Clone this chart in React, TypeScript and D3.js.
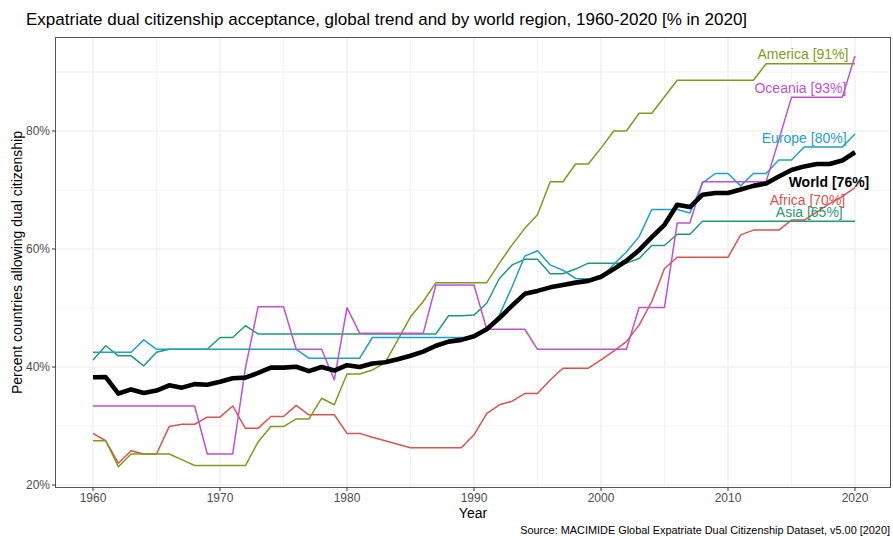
import React from "react";
import * as d3 from "d3";

const years: number[] = d3.range(1960, 2021);

const world = [38.25, 38.3, 35.5, 36.2, 35.6, 36.0, 36.9, 36.5, 37.1, 37.0,
  37.5, 38.1, 38.2, 39.0, 39.9, 39.9, 40.05, 39.3, 40.0, 39.4,
  40.3, 40.0, 40.6, 40.8, 41.3, 41.9, 42.6, 43.6, 44.3, 44.6,
  45.2, 46.4, 48.3, 50.4, 52.4, 52.9, 53.5, 53.9, 54.3, 54.6,
  55.3, 56.6, 58.0, 59.8, 62.0, 64.1, 67.5, 67.1, 69.2, 69.5,
  69.5, 70.1, 70.7, 71.1, 72.3, 73.4, 74.0, 74.4, 74.4, 75.0, 76.4];

const africa = [28.75, 27.5, 23.7, 25.8, 25.25, 25.25, 29.9, 30.3, 30.3, 31.5,
  31.5, 33.4, 29.6, 29.6, 31.6, 31.6, 33.5, 31.9, 31.9, 31.9,
  28.75, 28.75, 28.1, 27.5, 26.9, 26.3, 26.3, 26.3, 26.3, 26.3,
  28.5, 32.1, 33.6, 34.2, 35.5, 35.5, 37.8, 39.8, 39.8, 39.8,
  41.2, 42.7, 44.3, 47.1, 51.1, 56.7, 58.6, 58.6, 58.6, 58.6,
  58.6, 62.4, 63.2, 63.2, 63.2, 64.9, 64.9, 66.3, 67.7, 68.9, 70.4];

const america = [27.5, 27.5, 23.1, 25.25, 25.25, 25.25, 25.25, 24.3, 23.3, 23.3,
  23.3, 23.3, 23.3, 27.3, 29.9, 29.9, 31.2, 31.2, 34.7, 33.6,
  38.8, 38.8, 39.5, 40.7, 44.6, 48.5, 51.1, 54.3, 54.3, 54.3,
  54.3, 54.3, 57.6, 60.7, 63.5, 65.8, 71.4, 71.4, 74.4, 74.4,
  77.1, 80.0, 80.0, 83.0, 83.0, 85.8, 88.6, 88.6, 88.6, 88.6,
  88.6, 88.6, 88.6, 91.4, 91.4, 91.4, 91.4, 91.4, 91.4, 91.4, 91.4];

const asia = [41.2, 43.6, 41.9, 41.9, 40.2, 42.5, 43.0, 43.0, 43.0, 43.0,
  45.0, 45.0, 47.0, 45.6, 45.6, 45.6, 45.6, 45.6, 45.6, 45.6,
  45.6, 45.6, 45.6, 45.6, 45.6, 45.6, 45.6, 45.6, 48.7, 48.7,
  48.8, 50.8, 55.0, 57.3, 58.25, 58.25, 55.8, 55.8, 56.6, 57.6,
  57.6, 57.6, 57.6, 58.4, 60.6, 60.6, 62.5, 62.5, 64.7, 64.7,
  64.7, 64.7, 64.7, 64.7, 64.7, 64.7, 64.7, 64.7, 64.7, 64.7, 64.7];

const europe = [42.5, 42.5, 42.5, 42.5, 44.6, 43.0, 43.0, 43.0, 43.0, 43.0,
  43.0, 43.0, 43.0, 43.0, 43.0, 43.0, 43.0, 41.5, 41.5, 41.5,
  41.5, 41.5, 45.0, 45.0, 45.0, 45.0, 45.0, 45.0, 45.0, 45.0,
  45.0, 46.3, 48.8, 53.6, 58.8, 59.7, 57.3, 56.4, 55.0, 54.9,
  55.0, 57.4, 59.5, 62.1, 66.7, 66.7, 66.7, 66.1, 71.2, 72.8,
  72.8, 70.7, 72.8, 72.8, 75.1, 75.1, 77.3, 77.3, 77.3, 77.3, 79.5];

const oceania = [33.4, 33.4, 33.4, 33.4, 33.4, 33.4, 33.4, 33.4, 33.4, 25.25,
  25.25, 25.25, 39.8, 50.2, 50.2, 50.2, 43.0, 43.0, 43.0, 37.8,
  50.05, 45.7, 45.7, 45.7, 45.7, 45.7, 45.7, 53.9, 53.9, 53.9,
  53.9, 46.4, 46.4, 46.4, 46.4, 43.0, 43.0, 43.0, 43.0, 43.0,
  43.0, 43.0, 43.0, 50.1, 50.1, 50.1, 64.4, 64.4, 71.4, 71.4,
  71.4, 71.4, 71.4, 71.4, 78.5, 85.7, 85.7, 85.7, 85.7, 85.7, 92.7];

const regionNames = ["Africa", "America", "Asia", "Europe", "Oceania"];
const regionValues = [africa, america, asia, europe, oceania];
const regionColors = ["#d9544f", "#7f9a1c", "#1f9a72", "#1ea0c8", "#bd52d2"];
const finalPct = ["70%", "91%", "65%", "80%", "93%"];
const worldLabel = "World [76%]";

const xTicks = [1960, 1970, 1980, 1990, 2000, 2010, 2020];
const xMinor = [1965, 1975, 1985, 1995, 2005, 2015];
const yTicks = [20, 40, 60, 80];
const yMinor = [30, 50, 70, 90];

// label anchor (centre) positions in data units: [year, percent]
const labelPos: [number, number][] = [
  [2016.26, 68.3],
  [2015.9, 93.0],
  [2016.4, 66.3],
  [2016.0, 78.8],
  [2015.7, 87.2],
];
const worldLabelPos: [number, number] = [2017.95, 71.4];

export default function App() {
  const W = 893, H = 536;
  const panel = { left: 55.5, right: 890.5, top: 37.5, bottom: 487.5 };
  const x = d3.scaleLinear().domain([1960, 2020]).range([93, 855]);
  const y = d3.scaleLinear().domain([20, 80]).range([485, 131]);

  const line = d3.line<number>()
    .x((_, i) => x(years[i]))
    .y((d) => y(d));

  const font = "'Liberation Sans', Arial, Helvetica, sans-serif";
  const grid = "#ebebeb";

  return (
    <div style={{ position: "absolute", left: 0, top: 0 }}>
      <svg width={W} height={H} style={{ display: "block", fontFamily: font }}>
        <rect x={0} y={0} width={W} height={H} fill="#fff" />
        <text x={26} y={25} fontSize={17} fill="#000">
          Expatriate dual citizenship acceptance, global trend and by world region, 1960-2020 [% in 2020]
        </text>
        {/* grid */}
        {xMinor.map((v) => (
          <line key={"xm" + v} x1={x(v)} x2={x(v)} y1={panel.top} y2={panel.bottom} stroke={grid} strokeWidth={0.6} />
        ))}
        {yMinor.map((v) => (
          <line key={"ym" + v} y1={y(v)} y2={y(v)} x1={panel.left} x2={panel.right} stroke={grid} strokeWidth={0.6} />
        ))}
        {xTicks.map((v) => (
          <line key={"xg" + v} x1={x(v)} x2={x(v)} y1={panel.top} y2={panel.bottom} stroke={grid} strokeWidth={1.1} />
        ))}
        {yTicks.map((v) => (
          <line key={"yg" + v} y1={y(v)} y2={y(v)} x1={panel.left} x2={panel.right} stroke={grid} strokeWidth={1.1} />
        ))}
        {/* region lines */}
        {regionValues.map((vals, k) => (
          <path key={regionNames[k]} d={line(vals) || ""} fill="none" stroke={regionColors[k]}
            strokeWidth={1.5} strokeLinejoin="round" />
        ))}
        <path d={line(world) || ""} fill="none" stroke="#000" strokeWidth={4.6} strokeLinejoin="round" />
        {/* labels */}
        {regionNames.map((n, k) => (
          <text key={"l" + n} x={x(labelPos[k][0])} y={y(labelPos[k][1])} dy="0.35em" textAnchor="middle"
            fontSize={14} fill={regionColors[k]}>
            {`${n} [${finalPct[k]}]`}
          </text>
        ))}
        <text x={x(worldLabelPos[0])} y={y(worldLabelPos[1])} dy="0.35em" textAnchor="middle"
          fontSize={14} fontWeight="bold" fill="#000">
          {worldLabel}
        </text>
        {/* panel border */}
        <rect x={panel.left} y={panel.top} width={panel.right - panel.left} height={panel.bottom - panel.top}
          fill="none" stroke="#555" strokeWidth={1} />
        {/* x axis */}
        {xTicks.map((v) => (
          <g key={"xt" + v}>
            <line x1={x(v)} x2={x(v)} y1={panel.bottom} y2={panel.bottom + 3.5} stroke="#333" strokeWidth={1} />
            <text x={x(v)} y={panel.bottom + 14.5} textAnchor="middle" fontSize={12} fill="#4d4d4d">{v}</text>
          </g>
        ))}
        {/* y axis */}
        {yTicks.map((v) => (
          <g key={"yt" + v}>
            <line x1={panel.left - 3.5} x2={panel.left} y1={y(v)} y2={y(v)} stroke="#333" strokeWidth={1} />
            <text x={panel.left - 5.5} y={y(v)} dy="0.35em" textAnchor="end" fontSize={12} fill="#4d4d4d">{v}%</text>
          </g>
        ))}
        <text x={(panel.left + panel.right) / 2} y={518} textAnchor="middle" fontSize={14} fill="#000">Year</text>
        <text transform={`translate(22, ${(panel.top + panel.bottom) / 2}) rotate(-90)`} textAnchor="middle"
          fontSize={14} fill="#000">Percent countries allowing dual citizenship</text>
        <text x={890} y={534} textAnchor="end" fontSize={10.9} fill="#000">
          Source: MACIMIDE Global Expatriate Dual Citizenship Dataset, v5.00 [2020]
        </text>
      </svg>
    </div>
  );
}
